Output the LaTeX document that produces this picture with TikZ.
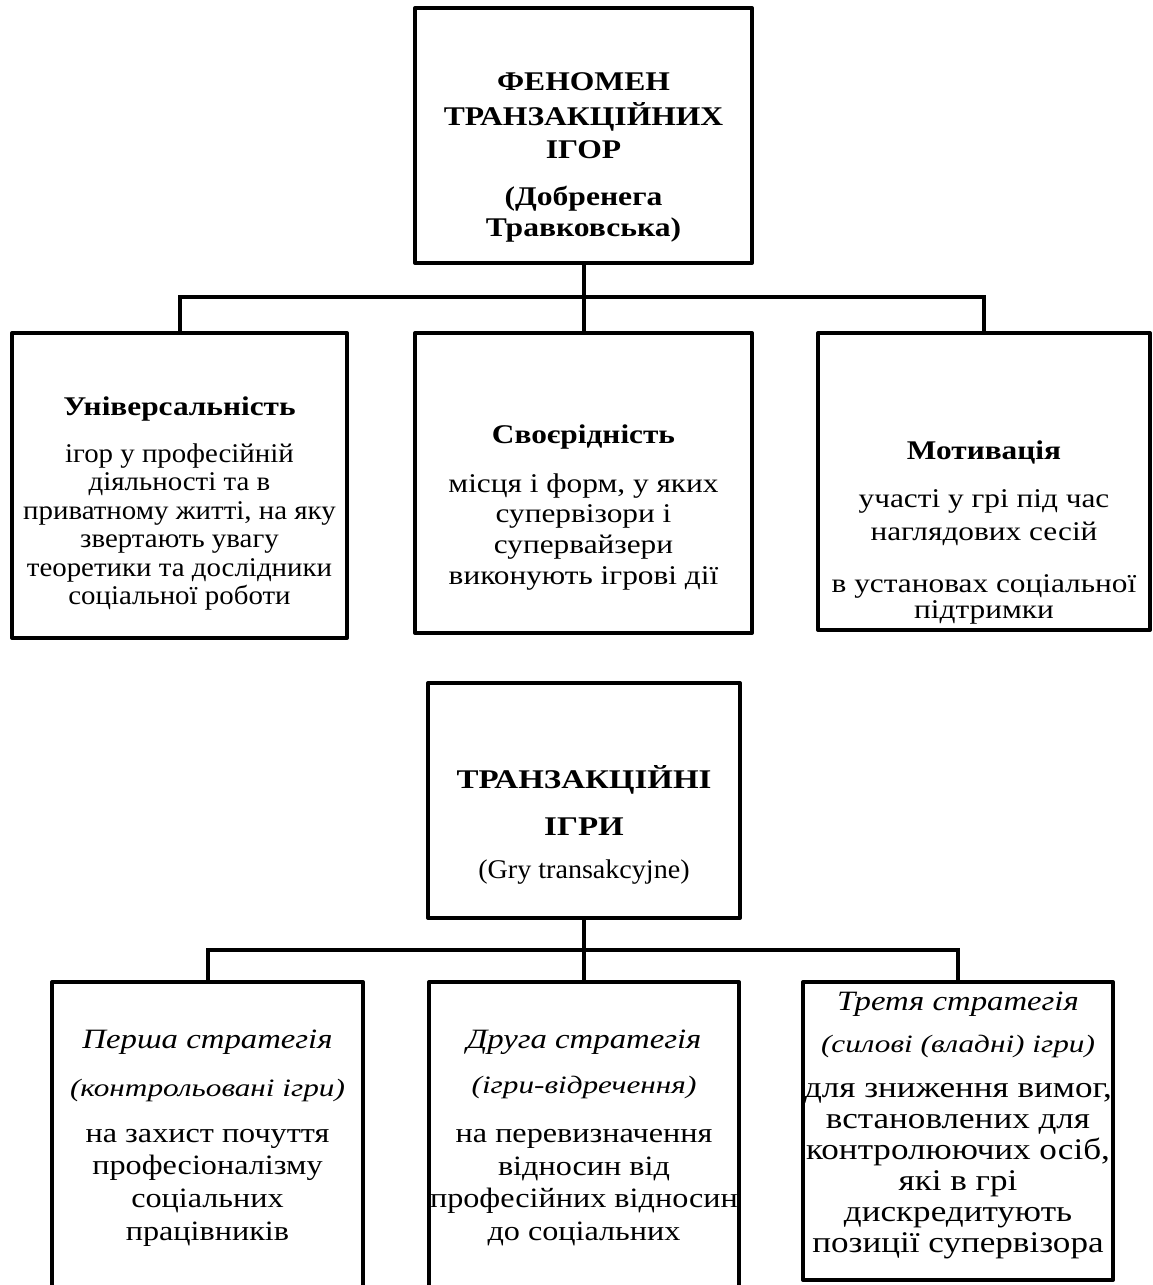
\documentclass[tikz,border=0pt]{standalone}
\usepackage{fontspec}
\setmainfont{Liberation Serif}
\newcommand{\fsz}[3]{\fontsize{#1}{#1}\selectfont#3\addfontfeatures{FakeStretch=#2}}
\begin{document}
\begin{tikzpicture}[x=1pt,y=-1pt,
  box/.style={draw=black,line width=4pt,line join=round,inner sep=0pt,fill=none},
  conn/.style={draw=black,line width=4pt},
  base/.style={anchor=base,inner sep=0pt},
  hb/.style={base,font=\fsz{27}{1.17}{\bfseries}},
  mb/.style={base,font=\fsz{27}{1.16}{\bfseries}},
  eb/.style={base,font=\fsz{27}{1.22}{\bfseries}},
  tb/.style={base,font=\fsz{27}{1.16}{\normalfont}},
  tl/.style={base,font=\fsz{27}{1.07}{\normalfont}},
  gr/.style={base,font=\fsz{27}{1.04}{\normalfont}},
  ti/.style={base,font=\fsz{28}{1.17}{\itshape}},
  si/.style={base,font=\fsz{25}{1.25}{\itshape}},
  bt/.style={base,font=\fsz{28}{1.15}{\normalfont}},
  br/.style={base,font=\fsz{30}{1.17}{\normalfont}}]
\useasboundingbox (0,0) rectangle (1152,1285);
\clip (0,0) rectangle (1152,1285);
% boxes
\node[box,minimum width=337pt,minimum height=255pt] (b0) at (583.5,135.5) {};
\node[box,minimum width=335pt,minimum height=305pt] (m1) at (179.5,485.5) {};
\node[box,minimum width=337pt,minimum height=300pt] (m2) at (583.5,483) {};
\node[box,minimum width=332pt,minimum height=297pt] (m3) at (984,481.5) {};
\node[box,minimum width=312pt,minimum height=235pt] (b1) at (584,800.5) {};
\node[box,minimum width=311pt,minimum height=330pt] (s1) at (207.5,1147) {};
\node[box,minimum width=310pt,minimum height=330pt] (s2) at (584,1147) {};
\node[box,minimum width=310pt,minimum height=298pt] (s3) at (958,1131) {};
% connectors
\coordinate (j0) at (583.5,297);
\coordinate (j1) at (584,950);
\draw[conn] (b0.south) -- (j0);
\draw[conn] (m1.north) |- (j0) -| (m3.north);
\draw[conn] (j0) -- (m2.north);
\draw[conn] (b1.south) -- (j1);
\draw[conn] (s1.north) |- (j1) -| (s3.north);
\draw[conn] (j1) -- (s2.north);
% top box text
\node[hb] (t1) at (583.5,90) {ФЕНОМЕН};
\node[hb] (t2) at (583.5,125) {ТРАНЗАКЦІЙНИХ};
\node[hb] (t3) at (583.5,158) {ІГОР};
\node[hb] (t4) at (583.5,205) {(Добренега};
\node[hb] (t5) at (583.5,236) {Травковська)};
% middle left
\node[mb] (a0) at (179.5,415) {Універсальність};
\node[tl] (a1) at (179.5,462) {ігор у професійній};
\node[tl] (a2) at (179.5,490) {діяльності та в};
\node[tl] (a3) at (179.5,519) {приватному житті, на яку};
\node[tl] (a4) at (179.5,547) {звертають увагу};
\node[tl] (a5) at (179.5,576) {теоретики та дослідники};
\node[tl] (a6) at (179.5,604) {соціальної роботи};
% middle mid
\node[mb] (c0) at (583.5,443) {Своєрідність};
\node[tb] (c1) at (583.5,492) {місця і форм, у яких};
\node[tb] (c2) at (583.5,522) {супервізори і};
\node[tb] (c3) at (583.5,553) {супервайзери};
\node[tb] (c4) at (583.5,584) {виконують ігрові дії};
% middle right
\node[mb] (d0) at (984,459) {Мотивація};
\node[tb] (d1) at (984,507) {участі у грі під час};
\node[tb] (d2) at (984,540) {наглядових сесій};
\node[tb] (d3) at (984,592) {в установах соціальної};
\node[tb] (d4) at (984,618) {підтримки};
% second box
\node[eb] (e1) at (584,788) {ТРАНЗАКЦІЙНІ};
\node[eb] (e2) at (584,835) {ІГРИ};
\node[gr] (e3) at (584,878) {(Gry transakcyjne)};
% bottom left
\node[ti] (f0) at (207.5,1048) {Перша стратегія};
\node[si] (f1) at (207.5,1096) {(контрольовані ігри)};
\node[bt] (f2) at (207.5,1142) {на захист почуття};
\node[bt] (f3) at (207.5,1174) {професіоналізму};
\node[bt] (f4) at (207.5,1207) {соціальних};
\node[bt] (f5) at (207.5,1240) {працівників};
% bottom mid
\node[ti] (g0) at (584,1048) {Друга стратегія};
\node[si] (g1) at (584,1093) {(ігри-відречення)};
\node[bt] (g2) at (584,1142) {на перевизначення};
\node[bt] (g3) at (584,1175) {відносин від};
\node[bt] (g4) at (584,1207) {професійних відносин};
\node[bt] (g5) at (584,1240) {до соціальних};
% bottom right
\node[ti] (h0) at (958,1010) {Третя стратегія};
\node[si] (h1) at (958,1052) {(силові (владні) ігри)};
\node[br] (h2) at (958,1097) {для зниження вимог,};
\node[br] (h3) at (958,1128) {встановлених для};
\node[br] (h4) at (958,1159) {контролюючих осіб,};
\node[br] (h5) at (958,1190) {які в грі};
\node[br] (h6) at (958,1221) {дискредитують};
\node[br] (h7) at (958,1252) {позиції супервізора};
\end{tikzpicture}
\end{document}
